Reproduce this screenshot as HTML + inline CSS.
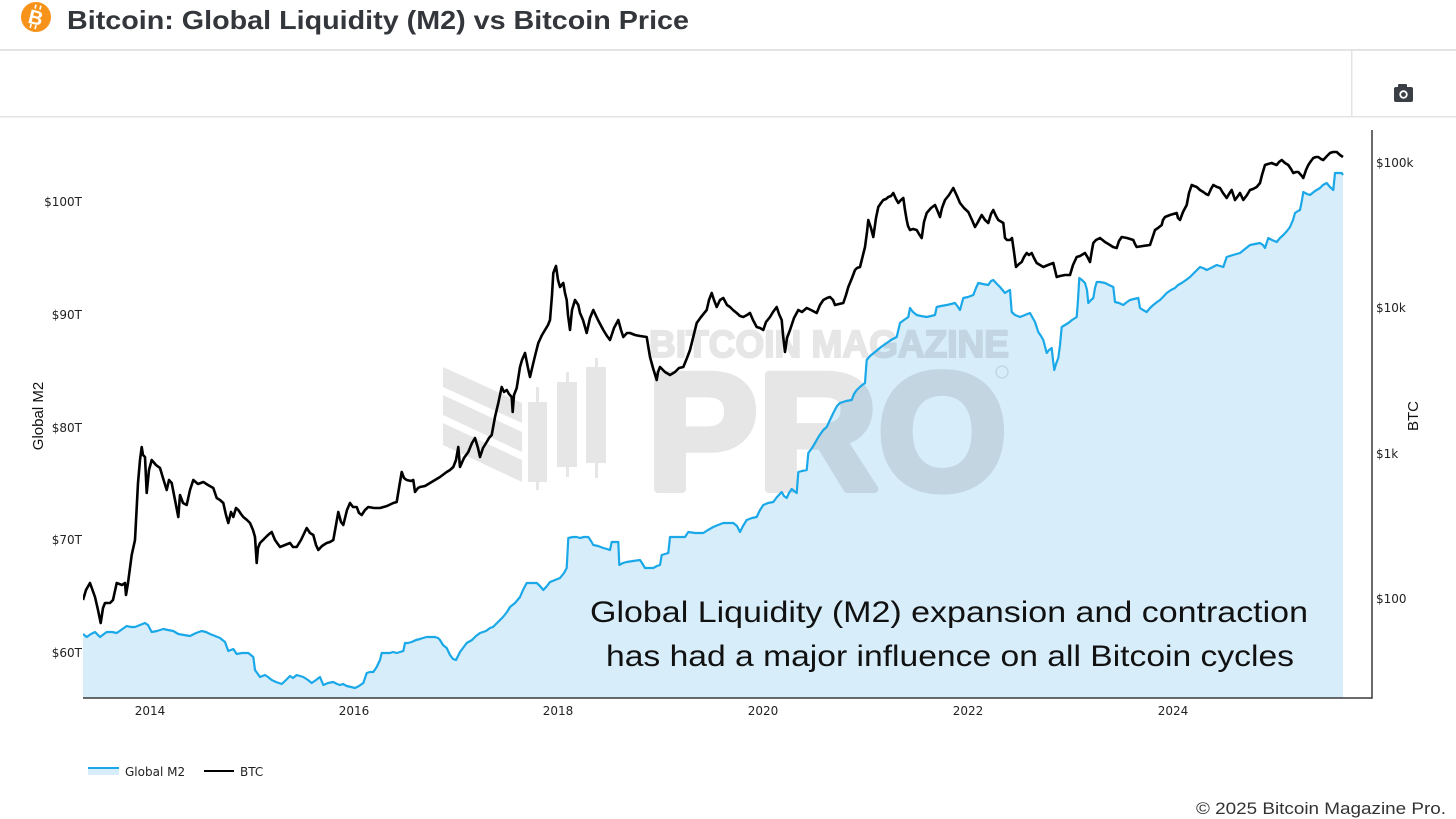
<!DOCTYPE html>
<html><head><meta charset="utf-8"><style>
html,body{margin:0;padding:0;background:#fff;width:1456px;height:819px;overflow:hidden}
svg{display:block}
</style></head><body>
<svg width="1456" height="819" viewBox="0 0 1456 819" xmlns="http://www.w3.org/2000/svg">
<defs>
<clipPath id="pc"><rect x="83" y="120" width="1261" height="578"/></clipPath>
</defs>
<rect width="1456" height="819" fill="#fff"/>
<!-- header -->
<circle cx="36" cy="17" r="15" fill="#f7931a"/>
<text x="36" y="24.5" text-anchor="middle" font-family="Liberation Sans, sans-serif" font-weight="bold" font-size="20" fill="#fff" transform="rotate(14 36 17)">B</text>
<line x1="33" y1="5" x2="33" y2="9" stroke="#fff" stroke-width="1.6" transform="rotate(14 36 17)"/>
<line x1="38" y1="5" x2="38" y2="9" stroke="#fff" stroke-width="1.6" transform="rotate(14 36 17)"/>
<line x1="33" y1="25" x2="33" y2="29" stroke="#fff" stroke-width="1.6" transform="rotate(14 36 17)"/>
<line x1="38" y1="25" x2="38" y2="29" stroke="#fff" stroke-width="1.6" transform="rotate(14 36 17)"/>
<text x="67" y="29" font-family="Liberation Sans, sans-serif" font-weight="bold" font-size="26" fill="#33363b" textLength="622" lengthAdjust="spacingAndGlyphs">Bitcoin: Global Liquidity (M2) vs Bitcoin Price</text>
<rect x="0" y="49" width="1456" height="2" fill="#e4e4e4"/>
<rect x="0" y="116" width="1456" height="1.5" fill="#e4e4e4"/>
<rect x="1351" y="50" width="1.5" height="66" fill="#e4e4e4"/>
<!-- camera -->
<rect x="1394" y="87" width="19" height="15" rx="2" fill="#3a3f45"/>
<rect x="1398" y="84" width="9" height="4" rx="1" fill="#3a3f45"/>
<circle cx="1403.5" cy="94.5" r="4.2" fill="#fff"/>
<circle cx="1403.5" cy="94.5" r="2.4" fill="#3a3f45"/>

<!-- M2 fill -->
<g clip-path="url(#pc)">
<polygon fill="#d7edfa" points="83,698 83,634 86.7,637 91,634 95,632 100,637 104,634 106.7,632 112,632 116.7,633 121,630 126.7,626 131,627 135,627 140,625 145,623 148,625 151.7,632 157,631 163.3,629 168,630 173.3,631 178.3,634 184,635 190,636 196,633 201.7,631 206,632 210,634 215,636 220,638 225,642 228.3,651 233.3,649 236.7,654 242,653 248.3,653 253.3,657 255,670 260,677 265,675 268,677 271.7,680 276,682 281.7,684 286,680 290,676 293,678 296.7,675 300,676 303.3,677 308,680 311.7,683 316,680 320,677 323.3,685 328,683 333.3,682 337,684 340,685 343,684 346.7,686 351,687 355,688 359,686 363.3,683 366.7,673 370,672 373.3,672 376.7,667 380,660 381.7,653 386,653 390,653 393,652 396.7,653 400,652 403.3,651 405,643 408,643 411.7,642 416,640 420,639 423,638 426.7,637 431,637 435,637 438,638 440,640 443,645 446.7,648 450,655 453,659 456,660 460,652 463,648 466.7,643 472,640 476,636 480,633 486,631 490,628 493,627 498,622 503,617 507,612 510,607 515,603 520,597 523,590 526.7,583 531,583 536.7,583 540,586 543.3,590 547,586 550,582 555,580 560,578 564,573 566.7,568 568.3,538 573,537 576.7,537 580,538 584,537 588.3,537 591,541 593.3,545 598,546 603.3,548 607,549 610,550 611.7,542 615,542 618.3,542 619.3,565 623,563 626.7,562 633,561 640,560 642,563 645,568 649,568 653.3,568 657,566 660,565 661.7,555 665,554 668.3,553 670,537 675,537 680,537 685,537 688.3,532 695,533 703.3,533 708,530 713.3,527 718,525 723.3,523 728,523 733.3,523 737,526 740,532 743,526 746.7,520 752,518 756.7,517 760,510 763.3,505 768,503 773.3,502 777,497 781.7,492 784,496 786.7,498 789,493 791.7,489 794,491 796.7,493 798.3,472 802,471 806.7,470 808.3,453 812,448 815,443 819,436 823.3,430 826.7,427 830,420 833.3,413 837,406 840,403 846,401 851.7,400 854,394 856.7,390 861,386 865,383 866.7,360 870,356 875,352 881,347 886.7,343 891,340 896.7,337 900,323 904,320 908.3,317 910,308 913,312 916.7,315 921,316 926.7,317 931,316 935,315 936.7,307 941,306 946.7,305 951,304 955,303 958,307 960,310 963.3,298 968,297 973.3,295 976,288 978.3,283 983,284 988.3,285 991,281 993.3,280 997,284 1000,287 1005,293 1008,291 1010,290 1011.7,312 1015,315 1020,317 1025,315 1030,313 1035,322 1038.3,332 1041,336 1043.3,340 1046.7,353 1049,350 1051.7,348 1053,360 1054.3,370 1056,364 1058.3,358 1060,345 1061.7,327 1065,325 1068.3,323 1072,320 1076.7,317 1078,300 1079.3,278 1082,280 1085,283 1087,290 1088.3,303 1091,300 1093.3,298 1095,288 1096.7,282 1100,282 1105,283 1109,285 1113.3,287 1115,302 1119,303 1123.3,305 1127,302 1130,300 1134,299 1138.3,298 1140,308 1143,310 1146.7,312 1150,308 1153.3,305 1157,302 1160,300 1163,297 1166.7,293 1171,290 1175,288 1178,285 1181.7,283 1186,280 1190,277 1195,272 1200,267 1203,268 1206.7,270 1211,268 1216.7,265 1220,266 1223.3,267 1225,262 1226.7,257 1233,255 1240,253 1245,249 1250,245 1255,244 1260,243 1263,245 1265,248 1268.3,238 1272,240 1276.7,242 1280,238 1283.3,235 1287,231 1290,227 1293,220 1295,213 1298,211 1300,210 1302,200 1303.3,192 1307,194 1310,195 1315,191 1320,188 1323,185 1326.7,183 1330,187 1333.3,190 1335,173 1338,173 1341.7,173 1343,175 1343,698"/>
</g>

<!-- watermark -->
<g fill="#000" stroke="#000" opacity="0.095">
<polygon stroke="none" points="443,367 522,403 522,423 443,387"/>
<polygon stroke="none" points="443,395 522,432 522,452 443,415"/>
<polygon stroke="none" points="443,423 522,460 522,482 443,445"/>
<rect stroke="none" x="528" y="402" width="19" height="80"/>
<rect stroke="none" x="536" y="387" width="3" height="103"/>
<rect stroke="none" x="557" y="382" width="20" height="85"/>
<rect stroke="none" x="566" y="372" width="3" height="105"/>
<rect stroke="none" x="586" y="367" width="20" height="96"/>
<rect stroke="none" x="595" y="358" width="3" height="120"/>
<text x="649" y="357" stroke-width="2" font-family="Liberation Sans, sans-serif" font-weight="bold" font-size="38" textLength="360" lengthAdjust="spacingAndGlyphs">BITCOIN MAGAZINE</text>
<text x="647" y="489" stroke-width="8" stroke-linejoin="round" font-family="Liberation Sans, sans-serif" font-weight="bold" font-size="166" textLength="360" lengthAdjust="spacingAndGlyphs">PRO</text>
</g>
<circle cx="1002" cy="372" r="6" fill="none" stroke="#000" stroke-opacity="0.09" stroke-width="1.5"/>

<!-- lines -->
<g clip-path="url(#pc)" fill="none" stroke-linejoin="round">
<polyline stroke="#1aa8e8" stroke-width="2.2" points="83,634 86.7,637 91,634 95,632 100,637 104,634 106.7,632 112,632 116.7,633 121,630 126.7,626 131,627 135,627 140,625 145,623 148,625 151.7,632 157,631 163.3,629 168,630 173.3,631 178.3,634 184,635 190,636 196,633 201.7,631 206,632 210,634 215,636 220,638 225,642 228.3,651 233.3,649 236.7,654 242,653 248.3,653 253.3,657 255,670 260,677 265,675 268,677 271.7,680 276,682 281.7,684 286,680 290,676 293,678 296.7,675 300,676 303.3,677 308,680 311.7,683 316,680 320,677 323.3,685 328,683 333.3,682 337,684 340,685 343,684 346.7,686 351,687 355,688 359,686 363.3,683 366.7,673 370,672 373.3,672 376.7,667 380,660 381.7,653 386,653 390,653 393,652 396.7,653 400,652 403.3,651 405,643 408,643 411.7,642 416,640 420,639 423,638 426.7,637 431,637 435,637 438,638 440,640 443,645 446.7,648 450,655 453,659 456,660 460,652 463,648 466.7,643 472,640 476,636 480,633 486,631 490,628 493,627 498,622 503,617 507,612 510,607 515,603 520,597 523,590 526.7,583 531,583 536.7,583 540,586 543.3,590 547,586 550,582 555,580 560,578 564,573 566.7,568 568.3,538 573,537 576.7,537 580,538 584,537 588.3,537 591,541 593.3,545 598,546 603.3,548 607,549 610,550 611.7,542 615,542 618.3,542 619.3,565 623,563 626.7,562 633,561 640,560 642,563 645,568 649,568 653.3,568 657,566 660,565 661.7,555 665,554 668.3,553 670,537 675,537 680,537 685,537 688.3,532 695,533 703.3,533 708,530 713.3,527 718,525 723.3,523 728,523 733.3,523 737,526 740,532 743,526 746.7,520 752,518 756.7,517 760,510 763.3,505 768,503 773.3,502 777,497 781.7,492 784,496 786.7,498 789,493 791.7,489 794,491 796.7,493 798.3,472 802,471 806.7,470 808.3,453 812,448 815,443 819,436 823.3,430 826.7,427 830,420 833.3,413 837,406 840,403 846,401 851.7,400 854,394 856.7,390 861,386 865,383 866.7,360 870,356 875,352 881,347 886.7,343 891,340 896.7,337 900,323 904,320 908.3,317 910,308 913,312 916.7,315 921,316 926.7,317 931,316 935,315 936.7,307 941,306 946.7,305 951,304 955,303 958,307 960,310 963.3,298 968,297 973.3,295 976,288 978.3,283 983,284 988.3,285 991,281 993.3,280 997,284 1000,287 1005,293 1008,291 1010,290 1011.7,312 1015,315 1020,317 1025,315 1030,313 1035,322 1038.3,332 1041,336 1043.3,340 1046.7,353 1049,350 1051.7,348 1053,360 1054.3,370 1056,364 1058.3,358 1060,345 1061.7,327 1065,325 1068.3,323 1072,320 1076.7,317 1078,300 1079.3,278 1082,280 1085,283 1087,290 1088.3,303 1091,300 1093.3,298 1095,288 1096.7,282 1100,282 1105,283 1109,285 1113.3,287 1115,302 1119,303 1123.3,305 1127,302 1130,300 1134,299 1138.3,298 1140,308 1143,310 1146.7,312 1150,308 1153.3,305 1157,302 1160,300 1163,297 1166.7,293 1171,290 1175,288 1178,285 1181.7,283 1186,280 1190,277 1195,272 1200,267 1203,268 1206.7,270 1211,268 1216.7,265 1220,266 1223.3,267 1225,262 1226.7,257 1233,255 1240,253 1245,249 1250,245 1255,244 1260,243 1263,245 1265,248 1268.3,238 1272,240 1276.7,242 1280,238 1283.3,235 1287,231 1290,227 1293,220 1295,213 1298,211 1300,210 1302,200 1303.3,192 1307,194 1310,195 1315,191 1320,188 1323,185 1326.7,183 1330,187 1333.3,190 1335,173 1338,173 1341.7,173 1343,175"/>
<polyline stroke="#000" stroke-width="2.6" points="83,600 86,590 90,583 95,597 98,610 100.7,623 103,608 105,603 110,603 113,600 116.7,583 122,585 125,583 126,595 128,583 131.7,555 135,540 138,483 140,460 141.7,447 143,455 145,457 146.7,493 149,470 151.7,460 156,465 160,468 163,478 166.7,490 169,480 171.7,483 175,500 178.3,517 180,495 183,503 186.7,505 190,490 193.3,480 198,484 203.3,482 208,485 213.3,488 216.7,498 220,500 223.3,503 226,515 228.3,523 231,512 233.3,517 236,508 238.3,510 241,514 243.3,517 247,520 250,523 253,530 255,537 256.7,563 258,548 260,543 265,538 268,535 271.7,532 275,540 280,547 285,545 290,543 293,547 296.7,547 301,540 306.7,528 310,533 313.3,535 316,545 318.3,550 322,546 326.7,543 330,542 333.3,540 336,525 338.3,512 341,522 343.3,525 347,510 350,503 353,507 356.7,507 359,513 361.7,515 365,510 368.3,507 374,508 380,508 387,506 393.3,503 396.7,502 399,488 401.7,472 404,478 406.7,480 411,481 413.3,480 415,492 418,488 420,487 425,486 430,483 435,480 440,477 444,474 446.7,472 450,470 453.3,467 456,460 458.3,447 460,467 464,458 468.3,452 472,443 475,438 478,448 480,457 483,448 486.7,442 489,438 491.7,435 495,417 498.3,403 501.7,387 504,392 506.7,390 509,394 511.7,397 512.7,412 514,395 516.7,388 520,367 522,360 525,353 528,368 530,377 533.3,363 536,352 538.3,343 542,335 545,330 548,325 550,320 552,295 553.3,273 556,266 558,280 560,287 563.3,283 565,293 566.7,300 568,315 570,330 572,310 575,300 578.3,305 580,313 583,320 586.7,333 590,318 593.3,310 598,320 603.3,330 607,336 610,340 614,328 618.3,320 621,330 623.3,337 627,333 630,333 635,335 640,336 646.7,337 648,345 650,357 653,368 656.7,380 658,372 660,367 665,372 670,375 675,372 679,368 683.3,367 687,358 690,350 693,338 696.7,323 701,317 706.7,310 709,300 711.7,293 714,300 716.7,307 720,300 723.3,298 727,305 730,307 733,310 736.7,313 740,316 743.3,317 747,315 750,313 753,320 756.7,327 760,328 763.3,330 766,322 770,317 773,312 776.7,307 779,314 781.7,320 783,335 785,352 787,338 790,330 794,318 798.3,310 802,312 806.7,308 811,310 816.7,313 820,305 823.3,300 827,298 830,297 833,300 835,305 839,304 843.3,303 846,295 848.3,287 852,278 855,270 857,268 860,267 863,255 865,247 867,232 868.3,220 871,228 873.3,237 876,218 878.3,207 881,203 883.3,200 886,199 888.3,197 891,196 893.3,193 896,199 898.3,203 901,200 903.3,198 905,210 906.7,220 908,226 910,230 913,229 916.7,230 919,234 921.7,238 924,222 926.7,213 931,208 935,205 938,212 940,217 942,208 945,200 949,195 953.3,188 957,196 960,203 964,208 968.3,212 972,220 975,227 978,222 981.7,215 985,220 988.3,223 991,214 993.3,210 996,216 998.3,220 1001.7,222 1003.3,223 1005,238 1007,240 1010,240 1012,238 1014,252 1016,267 1019,264 1021.7,262 1024,257 1026.7,253 1029,255 1031.7,253 1034,258 1036.7,263 1040,265 1043.3,267 1048,265 1053.3,263 1055,270 1056.7,277 1060,276 1065,275 1070,275 1073,265 1076.7,257 1080,256 1085,253 1088,258 1090,262 1092,250 1093.3,243 1096,240 1100,238 1105,242 1110,245 1113,247 1116.7,248 1119,241 1121.7,237 1127,238 1133.3,240 1135,244 1136.7,247 1143,246 1150,245 1153,236 1155,230 1158,228 1161.7,225 1163,220 1165,217 1170,215 1176.7,213 1178,218 1180,220 1183,212 1186.7,205 1189,193 1191.7,185 1194,186 1196.7,187 1200,190 1203.3,192 1206,194 1208.3,195 1211,189 1213.3,185 1217,187 1220,188 1223,193 1226.7,198 1229,194 1231.7,190 1235,200 1238,196 1240,193 1243.3,200 1247,195 1250,190 1253,189 1256.7,187 1260,183 1262,175 1265,165 1268,164 1271.7,163 1274,164 1276.7,165 1279,162 1281.7,160 1285,163 1288.3,165 1291,169 1293.3,173 1296,172 1298.3,172 1301,175 1303.3,178 1306,170 1308.3,165 1311,161 1313.3,158 1316,157 1318.3,157 1321,159 1323.3,160 1327,156 1330,153 1333,152 1336.7,152 1340,155 1343,157"/>
</g>

<!-- axes -->
<line x1="83" y1="698" x2="1372.5" y2="698" stroke="#3a3a3a" stroke-width="1.5"/>
<line x1="1372" y1="130" x2="1372" y2="698.7" stroke="#3a3a3a" stroke-width="1.5"/>

<g font-family="DejaVu Sans, Verdana, sans-serif" font-size="12" fill="#222">
<text x="82" y="206" text-anchor="end">$100T</text>
<text x="82" y="319" text-anchor="end">$90T</text>
<text x="82" y="432" text-anchor="end">$80T</text>
<text x="82" y="544" text-anchor="end">$70T</text>
<text x="82" y="657" text-anchor="end">$60T</text>
<text x="1376" y="167">$100k</text>
<text x="1376" y="312">$10k</text>
<text x="1376" y="458">$1k</text>
<text x="1376" y="603">$100</text>
<text x="150" y="715" text-anchor="middle">2014</text>
<text x="354" y="715" text-anchor="middle">2016</text>
<text x="558" y="715" text-anchor="middle">2018</text>
<text x="763" y="715" text-anchor="middle">2020</text>
<text x="968" y="715" text-anchor="middle">2022</text>
<text x="1173" y="715" text-anchor="middle">2024</text>
<text x="125" y="776">Global M2</text>
<text x="240" y="776">BTC</text>
</g>
<g font-family="Liberation Sans, Arial, sans-serif" font-size="15" fill="#111">
<text transform="translate(43 416) rotate(-90)" text-anchor="middle">Global M2</text>
<text transform="translate(1418 416) rotate(-90)" text-anchor="middle">BTC</text>
</g>

<!-- legend swatches -->
<rect x="88" y="767" width="31" height="8" fill="#d7edfa"/>
<line x1="88" y1="768" x2="119" y2="768" stroke="#1aa8e8" stroke-width="2"/>
<line x1="204" y1="771" x2="234" y2="771" stroke="#000" stroke-width="2"/>

<!-- annotation -->
<g font-family="Liberation Sans, Arial, sans-serif" font-size="30" fill="#111">
<text x="590" y="622" textLength="718" lengthAdjust="spacingAndGlyphs">Global Liquidity (M2) expansion and contraction</text>
<text x="606" y="666" textLength="688" lengthAdjust="spacingAndGlyphs">has had a major influence on all Bitcoin cycles</text>
</g>

<text x="1196" y="814" font-family="Liberation Sans, Arial, sans-serif" font-size="17" fill="#333" textLength="250" lengthAdjust="spacingAndGlyphs">© 2025 Bitcoin Magazine Pro.</text>
</svg>
</body></html>
